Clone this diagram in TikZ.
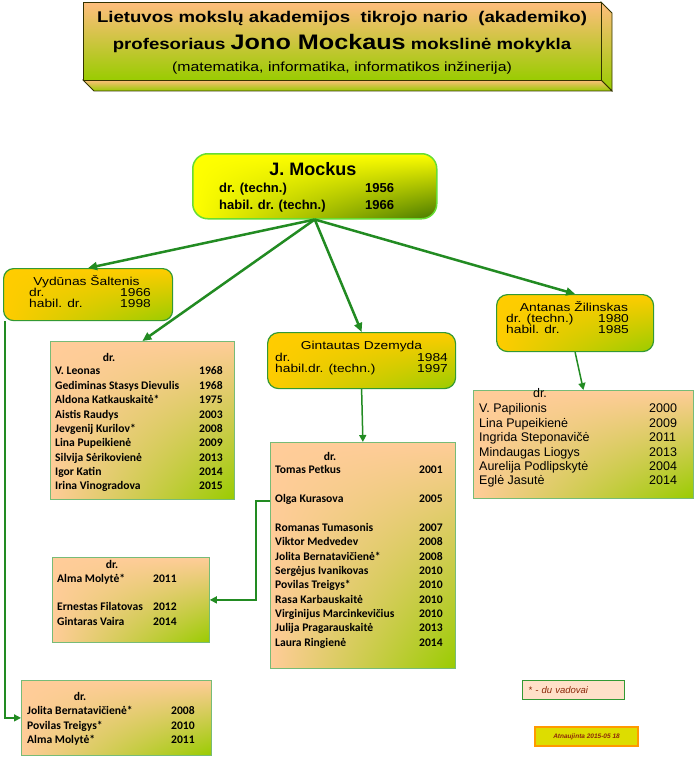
\documentclass[tikz,border=0pt]{standalone}
\usepackage{fontspec}
\setmainfont{Liberation Sans}
\newfontfamily\widefont{Liberation Sans}[FakeStretch=1.2]
\newfontfamily\calibri{Carlito}
\usetikzlibrary{arrows.meta,shadings}

\definecolor{peach}{RGB}{255,204,153}
\definecolor{titlepeach}{RGB}{255,190,125}
\definecolor{leaf}{RGB}{153,204,0}
\definecolor{gold}{RGB}{255,204,0}
\definecolor{moss}{RGB}{70,120,0}
\definecolor{rim}{RGB}{51,153,51}
\definecolor{palerim}{RGB}{119,187,119}
\definecolor{limerim}{RGB}{102,221,51}
\definecolor{twiggreen}{RGB}{34,139,34}
\definecolor{brick}{RGB}{140,40,10}
\definecolor{olive}{RGB}{51,51,0}
\definecolor{mustard}{RGB}{221,221,0}
\definecolor{tangerine}{RGB}{255,153,0}
\definecolor{blush}{RGB}{255,224,200}

\tikzset{
    person/.style={draw=rim, line width=1.2pt, rounded corners=10pt, anchor=north west,
        upper left=gold, lower left=gold, upper right=gold, lower right=leaf},
    pupils/.style={draw=palerim, line width=0.8pt, anchor=north west,
        upper left=peach, lower left=peach, upper right=peach, lower right=leaf},
    branch/.style={draw=twiggreen, line width=2.5pt, >={Triangle[length=9pt,width=8pt]}, ->},
    twig/.style={draw=twiggreen, line width=1.5pt, >={Triangle[length=7pt,width=7pt]}, ->},
    txt/.style={inner sep=0pt, anchor=base west},
    pname/.style={inner sep=0pt, anchor=base, font=\widefont\fontsize{11.5}{12}\selectfont},
    pline/.style={txt, font=\widefont\fontsize{11.5}{12}\selectfont},
    row/.style={txt, font=\calibri\bfseries\fontsize{11.6}{14}\selectfont},
    arow/.style={txt, font=\fontsize{12.5}{14}\selectfont},
}

\begin{document}
\begin{tikzpicture}[x=1pt, y=-1pt]
    \useasboundingbox ( 0, 0 ) rectangle ( 695, 757 );

    % antraštė
    \path [draw=olive, line width=0.8pt, top color=titlepeach, bottom color=leaf]
        ( 601, 2 ) -- ( 612, 13 ) -- ( 612, 91 ) -- ( 601, 80 ) -- cycle;
    \path [draw=olive, line width=0.8pt, top color=titlepeach, bottom color=leaf]
        ( 83, 80 ) -- ( 601, 80 ) -- ( 612, 91 ) -- ( 94, 91 ) -- cycle;
    \node [draw=olive, line width=0.8pt, top color=titlepeach, bottom color=leaf, anchor=north west,
        minimum width=518pt, minimum height=78pt] (title) at ( 83, 2 ) {};
    \node [inner sep=0pt, anchor=base, font=\widefont\bfseries\fontsize{15.5}{16}\selectfont] (title1)
        at ( 342, 22.7 ) {Lietuvos mokslų akademijos\ \ tikrojo nario\ \ (akademiko)};
    \node [inner sep=0pt, anchor=base, font=\widefont\bfseries\fontsize{15.5}{16}\selectfont] (title2)
        at ( 342, 50 ) {profesoriaus {\fontsize{21}{21}\selectfont Jono Mockaus} mokslinė mokykla};
    \node [inner sep=0pt, anchor=base, font=\widefont\fontsize{13.2}{14}\selectfont] (title3)
        at ( 342, 71.5 ) {(matematika, informatika, informatikos inžinerija)};

    % vadovai
    \node [person, draw=limerim, line width=1.5pt, rounded corners=15pt, upper left=yellow, lower left=yellow,
        upper right=yellow, lower right=moss, minimum width=244pt, minimum height=65pt] (mockus) at ( 192, 153 ) {};
    \node [inner sep=0pt, anchor=base, font=\bfseries\fontsize{18}{18}\selectfont] (mockusname) at ( 313, 175.7 ) {J. Mockus};
    \node [txt, font=\bfseries\fontsize{13}{13}\selectfont] (mockusdr) at ( 219, 192 ) {dr. (techn.)};
    \node [txt, font=\bfseries\fontsize{13}{13}\selectfont] (mockusdry) at ( 365, 192 ) {1956};
    \node [txt, font=\bfseries\fontsize{13}{13}\selectfont] (mockushab) at ( 219, 209 ) {habil. dr. (techn.)};
    \node [txt, font=\bfseries\fontsize{13}{13}\selectfont] (mockushaby) at ( 365, 209 ) {1966};

    \node [person, minimum width=169pt, minimum height=52pt] (saltenis) at ( 3, 268 ) {};
    \node [pname] (saltenisname) at ( 86.5, 285 ) {Vydūnas Šaltenis};
    \node [pline] (saltenisdr) at ( 29, 296.5 ) {dr.};
    \node [pline] (saltenisdry) at ( 120, 296.5 ) {1966};
    \node [pline] (saltenishab) at ( 29, 307.5 ) {habil. dr.};
    \node [pline] (saltenishaby) at ( 120, 307.5 ) {1998};

    \node [person, rounded corners=11pt, minimum width=188pt, minimum height=56pt] (dzemyda) at ( 267, 332 ) {};
    \node [pname] (dzemydaname) at ( 361.5, 349.5 ) {Gintautas Dzemyda};
    \node [pline] (dzemydadr) at ( 275, 361 ) {dr.};
    \node [pline] (dzemydadry) at ( 417, 361 ) {1984};
    \node [pline] (dzemydahab) at ( 275, 372 ) {habil.dr. (techn.)};
    \node [pline] (dzemydahaby) at ( 417, 372 ) {1997};

    \node [person, rounded corners=11pt, minimum width=157pt, minimum height=57pt] (zilinskas) at ( 496, 294 ) {};
    \node [pname] (zilinskasname) at ( 574, 311 ) {Antanas Žilinskas};
    \node [pline] (zilinskasdr) at ( 506, 322.5 ) {dr. (techn.)};
    \node [pline] (zilinskasdry) at ( 598, 322.5 ) {1980};
    \node [pline] (zilinskashab) at ( 506, 333.5 ) {habil. dr.};
    \node [pline] (zilinskashaby) at ( 598, 333.5 ) {1985};

    % mokiniai
    \node [pupils, minimum width=184pt, minimum height=158pt] (saltlist) at ( 50, 341 ) {};
    \node [row, anchor=base] (saltdr) at ( 109, 361 ) {dr.};
    \foreach \y/\who/\yr [count=\i] in {374/V. Leonas/1968, 389/Gediminas Stasys Dievulis/1968,
        403/Aldona Katkauskaitė*/1975, 418/Aistis Raudys/2003, 432/Jevgenij Kurilov*/2008,
        446/Lina Pupeikienė/2009, 461/Silvija Sėrikovienė/2013, 475/Igor Katin/2014,
        489/Irina Vinogradova/2015} {
        \node [row] (saltname\i) at ( 55, \y ) {\who};
        \node [row] (saltyear\i) at ( 199, \y ) {\yr};
    }

    \node [pupils, minimum width=185pt, minimum height=226pt] (dzemlist) at ( 270, 442 ) {};
    \node [row, anchor=base] (dzemdr) at ( 330, 460 ) {dr.};
    \foreach \y/\who/\yr [count=\i] in {473/Tomas Petkus/2001, 502/Olga Kurasova/2005,
        531/Romanas Tumasonis/2007, 545/Viktor Medvedev/2008, 560/Jolita Bernatavičienė*/2008,
        574/Sergėjus Ivanikovas/2010, 588/Povilas Treigys*/2010, 603/Rasa Karbauskaitė/2010,
        617/Virginijus Marcinkevičius/2010, 631/Julija Pragarauskaitė/2013, 646/Laura Ringienė/2014} {
        \node [row] (dzemname\i) at ( 275, \y ) {\who};
        \node [row] (dzemyear\i) at ( 419, \y ) {\yr};
    }

    \node [pupils, minimum width=220pt, minimum height=108pt] (zillist) at ( 473, 390 ) {};
    \node [arow, anchor=base] (zildr) at ( 540, 397.5 ) {dr.};
    \foreach \y/\who/\yr [count=\i] in {412.5/V. Papilionis/2000, 427/Lina Pupeikienė/2009,
        441.5/Ingrida Steponavičė/2011, 456/Mindaugas Liogys/2013, 470.5/Aurelija Podlipskytė/2004,
        484/Eglė Jasutė/2014} {
        \node [arow] (zilname\i) at ( 479, \y ) {\who};
        \node [arow] (zilyear\i) at ( 649, \y ) {\yr};
    }

    \node [pupils, minimum width=157pt, minimum height=85pt] (olgalist) at ( 52, 557 ) {};
    \node [row, anchor=base] (olgadr) at ( 112, 568 ) {dr.};
    \foreach \y/\who/\yr [count=\i] in {582/Alma Molytė*/2011, 610/Ernestas Filatovas/2012,
        625/Gintaras Vaira/2014} {
        \node [row] (olganame\i) at ( 57, \y ) {\who};
        \node [row] (olgayear\i) at ( 153, \y ) {\yr};
    }

    \node [pupils, minimum width=190pt, minimum height=75pt] (saltlisttwo) at ( 21, 680 ) {};
    \node [row, anchor=base] (salttwodr) at ( 80, 700 ) {dr.};
    \foreach \y/\who/\yr [count=\i] in {714/Jolita Bernatavičienė*/2008, 729/Povilas Treigys*/2010,
        743/Alma Molytė*/2011} {
        \node [row] (salttwoname\i) at ( 27, \y ) {\who};
        \node [row] (salttwoyear\i) at ( 171, \y ) {\yr};
    }

    % rodyklės
    \draw [branch] (mockus.south) -- (saltenis.north);
    \draw [branch] (mockus.south) -- (saltlist.north);
    \draw [branch] (mockus.south) -- (dzemyda.north);
    \draw [branch] (mockus.south) -- (zilinskas.north);
    \draw [twig] (dzemyda.south) -- (dzemlist.north);
    \draw [twig] (zilinskas.south) -- (zillist.north);
    \draw [twig] ([yshift=-59pt]dzemlist.north west) -- ++( -14, 0 ) |- (olgalist.east);
    \draw [twig] ([xshift=2pt]saltenis.south west) |- (saltlisttwo.west);

    % pastabos
    \node [draw=rim, line width=0.8pt, fill=blush, anchor=north west, inner xsep=6pt, text width=90pt,
        minimum height=19pt, text=brick, font=\itshape\fontsize{9.5}{10}\selectfont] (legend)
        at ( 522, 680 ) {* - du vadovai};
    \node [draw=tangerine, line width=1.2pt, fill=mustard, minimum width=103pt, minimum height=19pt,
        text=brick, font=\bfseries\itshape\fontsize{6.5}{7}\selectfont] (updated)
        at ( 586.5, 736.5 ) {Atnaujinta 2015-05 18};
\end{tikzpicture}
\end{document}
